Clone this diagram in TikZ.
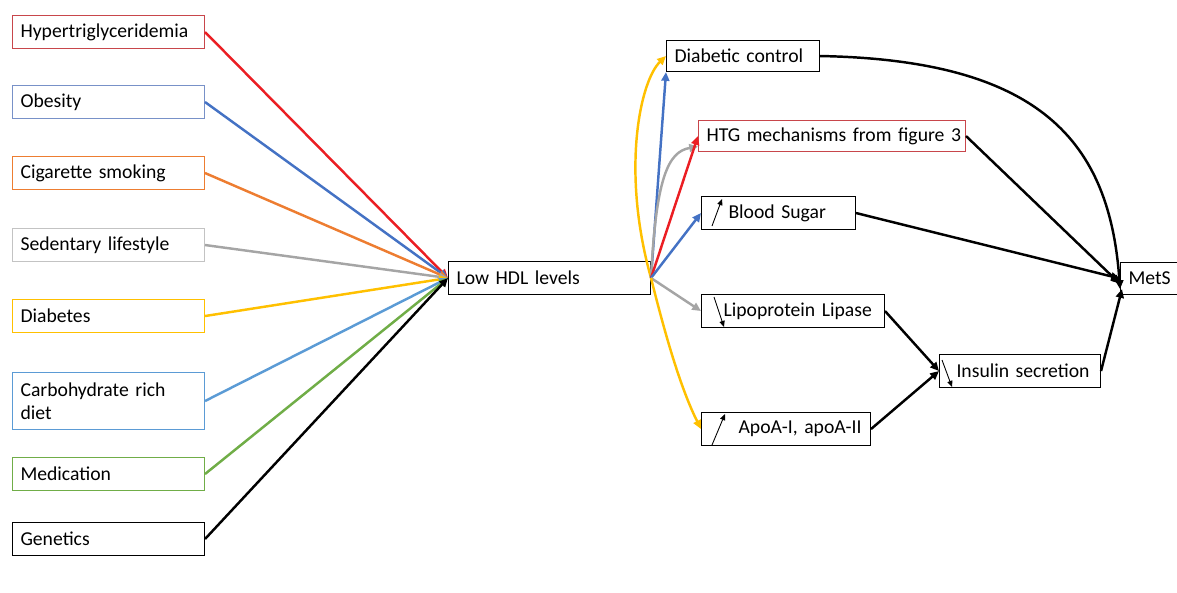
\documentclass[tikz,border=0pt]{standalone}
\usepackage{fontspec}
\setmainfont{Carlito}
\usetikzlibrary{arrows.meta}

\definecolor{hyred}{RGB}{235,30,35}
\definecolor{hyredbox}{RGB}{200,70,75}
\definecolor{obblue}{RGB}{68,114,196}
\definecolor{obbluebox}{RGB}{120,145,200}
\definecolor{cigorange}{RGB}{237,125,49}
\definecolor{sedgray}{RGB}{165,165,165}
\definecolor{sedgraybox}{RGB}{195,195,195}
\definecolor{diayellow}{RGB}{255,192,0}
\definecolor{carbblue}{RGB}{91,155,213}
\definecolor{medgreen}{RGB}{112,173,71}

\begin{document}
\begin{tikzpicture}[x=0.02cm,y=-0.02cm,
    every node/.style={font=\fontsize{11.2}{13.4}\selectfont},
    box/.style={draw,anchor=north west,align=left,inner xsep=0.16cm,inner ysep=2pt,
      minimum height=0.66cm,text width=#1,line width=0.6pt},
    conn/.style={line width=1.4pt,-{Triangle[length=5pt,width=4.5pt]}},
    updown/.style={line width=0.5pt,-{Triangle[length=3.5pt,width=3pt]}}]
    \useasboundingbox (0,0) rectangle (1177,592);
    % causes of low HDL
    \node[box=3.52cm,draw=hyredbox] (hyper) at (12,15) {Hypertriglyceridemia};
    \node[box=3.52cm,draw=obbluebox] (obesity) at (12,85) {Obesity};
    \node[box=3.52cm,draw=cigorange] (smoking) at (12,156) {Cigarette smoking};
    \node[box=3.52cm,draw=sedgraybox] (sedentary) at (12,228) {Sedentary lifestyle};
    \node[box=3.52cm,draw=diayellow] (diabetes) at (12,299) {Diabetes};
    \node[box=3.52cm,draw=carbblue,minimum height=1.14cm] (carbs) at (12,372) {Carbohydrate rich\\diet};
    \node[box=3.52cm,draw=medgreen] (medication) at (12,457) {Medication};
    \node[box=3.52cm,draw=black] (genetics) at (12,522) {Genetics};
    \node[box=3.72cm] (hdl) at (448,261) {Low HDL levels};
    \foreach \n/\c in {hyper/hyred,obesity/obblue,smoking/cigorange,sedentary/sedgray,
        diabetes/diayellow,carbs/carbblue,medication/medgreen,genetics/black} {
      \draw[conn,\c] (\n.east) -- (hdl.west);
    }
    % consequences
    \node[box=2.74cm,minimum height=0.62cm] (control) at (666,40) {\mbox{Diabetic control}};
    \node[box=5.02cm,minimum height=0.62cm,draw=hyredbox] (htg) at (698,120) {\mbox{HTG mechanisms from figure 3}};
    \node[box=2.76cm] (sugar) at (701,196) {\mbox{\hspace*{0.38cm}Blood Sugar}};
    \node[box=3.34cm] (lipase) at (701,294) {\mbox{\hspace*{0.28cm}Lipoprotein Lipase}};
    \node[box=3.06cm] (apoa) at (701,412) {\mbox{\hspace*{0.58cm}ApoA-I, apoA-II}};
    \node[box=2.90cm] (insulin) at (939,354) {\mbox{\hspace*{0.18cm}Insulin secretion}};
    \node[box=0.82cm,minimum height=0.64cm] (mets) at (1120,262) {MetS};
    \draw[updown] ([shift={(11,30)}]sugar.north west) -- ([shift={(21,3)}]sugar.north west);
    \draw[updown] ([shift={(13,3)}]lipase.north west) -- ([shift={(23,33)}]lipase.north west);
    \draw[updown] ([shift={(3,6)}]insulin.north west) -- ([shift={(13,33)}]insulin.north west);
    \draw[updown] ([shift={(11,33)}]apoa.north west) -- ([shift={(24,2)}]apoa.north west);

    \draw[conn,diayellow] (hdl.east) .. controls +(-30,-107) and +(-26,25) .. (control.west);
    \draw[conn,obblue] (hdl.east) -- (control.south west);
    \draw[conn,sedgray] (hdl.east) .. controls +(5,-100) and +(-30,5) .. ([yshift=-6]htg.west);
    \draw[conn,hyred] (hdl.east) -- (htg.west);
    \draw[conn,obblue] (hdl.east) -- (sugar.west);
    \draw[conn,sedgray] (hdl.east) -- (lipase.west);
    \draw[conn,diayellow] (hdl.east) .. controls +(15,60) and +(-20,-40) .. (apoa.west);

    \draw[conn,black] (control.east) .. controls +(220,4) and +(-10,-148) .. ([yshift=-6]mets.west);
    \draw[conn,black] (htg.east) -- ([yshift=-3]mets.west);
    \draw[conn,black] (sugar.east) -- (mets.west);
    \draw[conn,black] (lipase.east) -- (insulin.west);
    \draw[conn,black] (apoa.east) -- (insulin.west);
    \draw[conn,black] (insulin.east) -- ([shift={(2,-6)}]mets.south west);
\end{tikzpicture}
\end{document}
